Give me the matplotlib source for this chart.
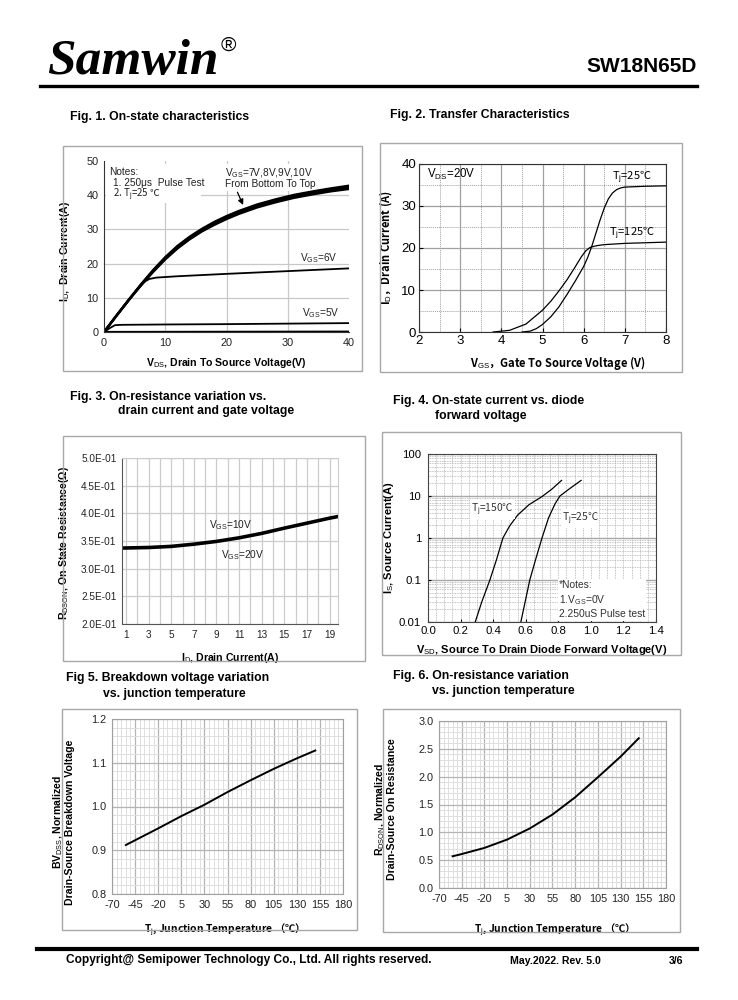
import matplotlib
matplotlib.use("Agg")
import matplotlib.pyplot as plt
from matplotlib.patches import Rectangle
from matplotlib.lines import Line2D
from matplotlib.ticker import MultipleLocator, FixedLocator, LogLocator, NullFormatter, FuncFormatter

plt.rcParams['font.family'] = ['Liberation Sans', 'DejaVu Sans', 'Noto Sans CJK SC']
plt.rcParams['mathtext.fontset'] = 'custom'
plt.rcParams['mathtext.rm'] = 'Liberation Sans'
plt.rcParams['mathtext.it'] = 'Liberation Sans:italic'
plt.rcParams['mathtext.bf'] = 'Liberation Sans:bold'
plt.rcParams['axes.unicode_minus'] = False
CJK = 'Noto Sans CJK SC'   # used for texts holding ℃ or full-width signs

# ---- Fig 1 data: on-state characteristics
vds_hi = [0, 2, 4, 6, 8, 10, 12, 14, 16, 18, 20, 22, 25, 28, 31, 34, 37, 40]
id_7v = [0, 4.6, 9.2, 13.5, 17.5, 21.2, 24.4, 27.1, 29.4, 31.3, 33.0, 34.5, 36.4, 37.9, 39.2, 40.2, 41.1, 41.8]
id_8v = [0, 4.7, 9.3, 13.6, 17.7, 21.5, 24.7, 27.4, 29.7, 31.7, 33.4, 34.9, 36.8, 38.3, 39.6, 40.6, 41.5, 42.2]
id_9v = [0, 4.7, 9.3, 13.7, 17.9, 21.7, 25.0, 27.7, 30.0, 32.0, 33.7, 35.2, 37.1, 38.6, 39.9, 40.9, 41.8, 42.5]
id_10v = [0, 4.8, 9.4, 13.9, 18.1, 21.9, 25.2, 27.9, 30.2, 32.2, 33.9, 35.4, 37.3, 38.8, 40.1, 41.1, 42.0, 42.8]
vds_6v = [0, 2, 4, 5.8, 6.6, 7.4, 8.5, 12, 20, 30, 40]
id_6v = [0, 4.6, 9.1, 13.3, 14.7, 15.5, 15.9, 16.3, 17.0, 17.8, 18.6]
vds_5v = [0, 1, 1.8, 3, 10, 20, 30, 40]
id_5v = [0, 1.2, 2.0, 2.1, 2.2, 2.3, 2.45, 2.6]
vds_4v = [0, 40]
id_4v = [0.05, 0.15]

# ---- Fig 2 data: transfer characteristics
vgs_25 = [4.5, 4.7, 4.85, 5.0, 5.2, 5.4, 5.6, 5.8, 6.0, 6.1, 6.2, 6.3, 6.4, 6.5, 6.6, 6.7, 6.8, 6.9, 7.0, 7.5, 8.0]
id_25 = [0, 0.2, 0.8, 1.8, 3.6, 6.0, 9.0, 12.2, 15.6, 17.8, 20.5, 23.6, 26.7, 29.5, 31.7, 33.1, 33.9, 34.3, 34.5, 34.7, 34.8]
vgs_125 = [3.8, 4.2, 4.6, 5.0, 5.2, 5.4, 5.6, 5.8, 5.95, 6.05, 6.15, 6.25, 6.35, 6.5, 7.0, 8.0]
id_125 = [0, 0.4, 1.9, 5.2, 7.3, 9.8, 12.5, 15.6, 18.0, 19.3, 20.1, 20.4, 20.6, 20.8, 21.1, 21.4]

# ---- Fig 3 data: on-resistance vs drain current
id_r = [0.65, 3, 5, 7, 9, 11, 13, 15, 17, 19, 19.75]
rds_10v = [0.3385, 0.3395, 0.3415, 0.3455, 0.3505, 0.3570, 0.3650, 0.3745, 0.3835, 0.3925, 0.3955]
rds_20v = [0.3360, 0.3370, 0.3390, 0.3430, 0.3480, 0.3545, 0.3625, 0.3720, 0.3810, 0.3900, 0.3930]

# ---- Fig 4 data: body diode
vsd_150 = [0.29, 0.33, 0.38, 0.42, 0.46, 0.50, 0.55, 0.62, 0.70, 0.76, 0.82]
is_150 = [0.01, 0.03, 0.1, 0.3, 1.0, 1.9, 3.5, 6.2, 9.7, 14.5, 23.5]
vsd_25 = [0.57, 0.60, 0.625, 0.66, 0.70, 0.74, 0.78, 0.81, 0.87, 0.94]
is_25 = [0.01, 0.035, 0.1, 0.3, 1.0, 3.0, 6.5, 10, 15, 23.5]

# ---- Fig 5 / Fig 6 data: vs junction temperature
tj_bv = [-55, -20, 5, 30, 55, 80, 105, 130, 150]
bv_norm = [0.912, 0.950, 0.978, 1.004, 1.033, 1.060, 1.086, 1.110, 1.128]
tj_rds = [-55, -45, -20, 5, 30, 55, 80, 105, 130, 150]
rds_norm = [0.57, 0.61, 0.72, 0.87, 1.07, 1.32, 1.63, 1.99, 2.36, 2.69]
temp_ticks = [-70, -45, -20, 5, 30, 55, 80, 105, 130, 155, 180]

W, H = 738, 1000
fig = plt.figure(figsize=(7.38, 10), dpi=100)


def fx(x):
    return x / W


def fy(y):
    return 1 - y / H


def panel_box(l, t, r, b):
    fig.add_artist(Rectangle((fx(l), fy(b)), fx(r - l), (b - t) / H, transform=fig.transFigure,
                             fill=False, edgecolor='#a8a8a8', linewidth=1.0))


def axes_px(l, t, r, b):
    return fig.add_axes([fx(l), fy(b), fx(r - l), (b - t) / H])


def ftext(x, y, s, **kw):
    fig.text(fx(x), fy(y), s, **kw)


# header / footer
ftext(47, 62, 'Samwin', family='Liberation Serif', fontsize=37, fontweight='bold',
      fontstyle='italic', va='center', ha='left')
ftext(221, 45, '®', family='Liberation Sans', fontsize=15, va='center', ha='left')
ftext(697, 66, 'SW18N65D', fontsize=15, fontweight='bold', ha='right', va='center')
fig.add_artist(Line2D([fx(40), fx(697)], [fy(86), fy(86)], color='black', linewidth=2.4))
fig.add_artist(Line2D([fx(37), fx(697)], [fy(949), fy(949)], color='black', linewidth=3.0))
ftext(66, 960, 'Copyright@ Semipower Technology Co., Ltd. All rights reserved.',
      fontsize=8.6, fontweight='bold', va='center')
ftext(510, 961, 'May.2022. Rev. 5.0', fontsize=7.6, fontweight='bold', va='center')
ftext(683, 961, '3/6', fontsize=7.6, fontweight='bold', va='center', ha='right')

tfs = 8.8
ftext(70, 117, 'Fig. 1. On-state characteristics', fontsize=tfs, fontweight='bold', va='center')
ftext(390, 115, 'Fig. 2. Transfer Characteristics', fontsize=tfs, fontweight='bold', va='center')
ftext(70, 397, 'Fig. 3. On-resistance variation vs.', fontsize=tfs, fontweight='bold', va='center')
ftext(118, 411, 'drain current and gate voltage', fontsize=tfs, fontweight='bold', va='center')
ftext(393, 401, 'Fig. 4. On-state current vs. diode', fontsize=tfs, fontweight='bold', va='center')
ftext(435, 416, 'forward voltage', fontsize=tfs, fontweight='bold', va='center')
ftext(66, 678, 'Fig 5. Breakdown voltage variation', fontsize=tfs, fontweight='bold', va='center')
ftext(103, 694, 'vs. junction temperature', fontsize=tfs, fontweight='bold', va='center')
ftext(393, 676, 'Fig. 6. On-resistance variation', fontsize=tfs, fontweight='bold', va='center')
ftext(432, 691, 'vs. junction temperature', fontsize=tfs, fontweight='bold', va='center')

for bx in [(63, 146, 362, 371), (380, 143, 682, 372), (63, 436, 365, 661),
           (382, 432, 681, 655), (62, 709, 357, 930), (383, 709, 680, 932)]:
    panel_box(*bx)

lab = dict(fontsize=7.6, fontweight='bold')

# ---------------- Fig 1
ax1 = axes_px(104, 161, 349, 332)
for yv in [10, 20, 30, 40]:
    ax1.axhline(yv, color='#c8c8c8', linewidth=0.9, zorder=0)
for xv in [10, 20, 30]:
    ax1.axvline(xv, color='#c8c8c8', linewidth=0.9, zorder=0)
# white patch behind the notes, hiding the grid like the original
ax1.add_patch(Rectangle((0.4, 37.6), 15.4, 11.4, facecolor='white', edgecolor='none', zorder=0.5))
ax1.add_patch(Rectangle((19.4, 41.2), 14.2, 7.8, facecolor='white', edgecolor='none', zorder=0.5))
ax1.plot(vds_4v, id_4v, color='black', linewidth=1.3)
ax1.plot(vds_5v, id_5v, color='black', linewidth=1.3)
ax1.plot(vds_6v, id_6v, color='black', linewidth=1.3)
for ys in [id_7v, id_8v, id_9v, id_10v]:
    ax1.plot(vds_hi, ys, color='black', linewidth=1.6)
ax1.set_xlim(0, 40)
ax1.set_ylim(0, 50)
ax1.xaxis.set_major_locator(MultipleLocator(10))
ax1.yaxis.set_major_locator(MultipleLocator(10))
ax1.tick_params(length=0, labelsize=7.8, labelcolor='#222222', pad=4)
for s in ['top', 'right']:
    ax1.spines[s].set_visible(False)
for s in ['left', 'bottom']:
    ax1.spines[s].set_color('#333333')
ax1.text(0.9, 46.8, 'Notes:', fontsize=7.3, va='center', color='#222222')
ax1.text(1.4, 43.5, '1. 250μs  Pulse Test', fontsize=7.3, va='center', color='#222222')
ax1.text(1.4, 40.2, '2. T$_{\\rm j}$=25 ℃', family=CJK, fontsize=7.0, va='center', color='#222222')
ax1.text(19.8, 46.4, 'V$_{\\rm GS}$=7V,8V,9V,10V', fontsize=7.3, va='center', color='#222222')
ax1.text(19.8, 43.3, 'From Bottom To Top', fontsize=7.3, va='center', color='#222222')
ax1.annotate('', xy=(22.9, 36.4), xytext=(21.6, 41.6),
             arrowprops=dict(arrowstyle='-|>', color='black', linewidth=0.9, mutation_scale=8))
ax1.text(32, 21.6, 'V$_{\\rm GS}$=6V', fontsize=7.3, color='#222222', va='center')
ax1.text(32.3, 5.6, 'V$_{\\rm GS}$=5V', fontsize=7.3, color='#222222', va='center')
ax1.set_xlabel('V$_{\\rm DS}$, Drain To Source Voltage(V)', **lab)
ax1.set_ylabel('I$_{\\rm D}$,  Drain Current(A)', **lab)
ax1.xaxis.set_label_coords(0.5, -0.14)
ax1.yaxis.set_label_coords(-0.13, 0.47)

# ---------------- Fig 2
ax2 = axes_px(419, 164, 666, 332)
ax2.plot(vgs_25, id_25, color='black', linewidth=0.9)
ax2.plot(vgs_125, id_125, color='black', linewidth=0.9)
ax2.set_xlim(2, 8)
ax2.set_ylim(0, 40)
ax2.xaxis.set_major_locator(MultipleLocator(1))
ax2.yaxis.set_major_locator(MultipleLocator(10))
ax2.xaxis.set_minor_locator(MultipleLocator(0.5))
ax2.yaxis.set_minor_locator(MultipleLocator(5))
ax2.grid(which='major', color='#a0a0a0', linewidth=0.9)
ax2.grid(which='minor', color='#a0a0a0', linewidth=0.7, linestyle=(0, (1, 1)))
ax2.set_axisbelow(True)
ax2.tick_params(which='major', direction='in', length=3, labelsize=9.5, pad=2)
ax2.tick_params(which='minor', length=0)
for s in ax2.spines.values():
    s.set_color('#333333')
ax2.text(2.2, 37.5, 'V$_{\\rm DS}$=20V', fontsize=8.3, va='center')
ax2.text(6.68, 36.9, 'T$_{\\rm j}$=25℃', family=CJK, fontsize=8.0, va='center')
ax2.text(6.62, 23.5, 'T$_{\\rm j}$=125℃', family=CJK, fontsize=8.0, va='center')
ax2.set_xlabel('V$_{\\rm GS}$，Gate To Source Voltage (V)', family=CJK, fontsize=8.0, fontweight='bold')
ax2.set_ylabel('I$_{\\rm D}$，Drain Current (A)', family=CJK, fontsize=8.0, fontweight='bold')
ax2.xaxis.set_label_coords(0.56, -0.13)
ax2.yaxis.set_label_coords(-0.1, 0.5)

# ---------------- Fig 3
ax3 = axes_px(122, 458, 338, 624)
ax3.plot(id_r, rds_10v, color='black', linewidth=1.6)
ax3.plot(id_r, rds_20v, color='black', linewidth=1.6)
ax3.set_xlim(0.65, 19.75)
ax3.set_ylim(0.2, 0.5)
ax3.xaxis.set_major_locator(FixedLocator(list(range(1, 20, 2))))
ax3.xaxis.set_minor_locator(FixedLocator(list(range(2, 20, 2))))
ax3.yaxis.set_major_locator(MultipleLocator(0.05))
ax3.yaxis.set_major_formatter(FuncFormatter(lambda v, p: '%.1E' % v))
ax3.grid(which='both', color='#cccccc', linewidth=0.9)
ax3.set_axisbelow(True)
ax3.tick_params(which='both', length=0, labelsize=7.2, labelcolor='#222222', pad=4)
for s in ['top', 'right']:
    ax3.spines[s].set_color('#cccccc')
for s in ['left', 'bottom']:
    ax3.spines[s].set_color('#555555')
ax3.text(8.3, 0.378, 'V$_{\\rm GS}$=10V', fontsize=7.3, color='#222222', va='center')
ax3.text(9.4, 0.325, 'V$_{\\rm GS}$=20V', fontsize=7.3, color='#222222', va='center')
ax3.set_xlabel('I$_{\\rm D}$, Drain Current(A)', **lab)
ax3.set_ylabel('R$_{\\rm DSON}$, On-State Resistance(Ω)', **lab)
ax3.xaxis.set_label_coords(0.5, -0.16)
ax3.yaxis.set_label_coords(-0.235, 0.49)

# ---------------- Fig 4
ax4 = axes_px(428, 454, 656, 622)
ax4.semilogy(vsd_150, is_150, color='black', linewidth=0.9)
ax4.semilogy(vsd_25, is_25, color='black', linewidth=0.9)
ax4.set_xlim(0, 1.4)
ax4.set_ylim(0.01, 100)
ax4.xaxis.set_major_locator(MultipleLocator(0.2))
ax4.xaxis.set_minor_locator(MultipleLocator(0.05))
ax4.yaxis.set_major_locator(LogLocator(base=10, numticks=10))
ax4.yaxis.set_minor_locator(LogLocator(base=10, subs=range(2, 10), numticks=10))
ax4.yaxis.set_minor_formatter(NullFormatter())
ax4.yaxis.set_major_formatter(FuncFormatter(lambda v, p: '%g' % v))
ax4.xaxis.set_major_formatter(FuncFormatter(lambda v, p: '%.1f' % v))
ax4.grid(which='major', axis='y', color='#a8a8a8', linewidth=1.0)
ax4.grid(which='minor', axis='y', color='#b0b0b0', linewidth=0.6, linestyle=(0, (1, 1)))
ax4.grid(which='both', axis='x', color='#b0b0b0', linewidth=0.6, linestyle=(0, (1, 1)))
ax4.set_axisbelow(True)
ax4.tick_params(which='major', direction='in', length=2.5, labelsize=8.2)
ax4.tick_params(axis='y', pad=5)
ax4.tick_params(axis='x', pad=3)
ax4.tick_params(which='minor', length=0)
for s in ax4.spines.values():
    s.set_color('#444444')
ax4.text(0.265, 4.7, 'T$_{\\rm j}$=150℃', family=CJK, fontsize=7.4, color='#333333', va='center',
         bbox=dict(facecolor='white', edgecolor='none', pad=0.5))
ax4.text(0.82, 2.95, 'T$_{\\rm j}$=25℃', family=CJK, fontsize=7.4, color='#333333', va='center',
         bbox=dict(facecolor='white', edgecolor='none', pad=0.5))
ax4.text(0.805, 0.0115, '*Notes:\n1.V$_{\\rm GS}$=0V\n2.250uS Pulse test', fontsize=7.4,
         color='#333333', va='bottom', ha='left', linespacing=1.3,
         bbox=dict(facecolor='white', edgecolor='none', pad=0.8))
ax4.set_xlabel('V$_{\\rm SD}$, Source To Drain Diode Forward Voltage(V)', fontsize=8.0, fontweight='bold')
ax4.set_ylabel('I$_{\\rm S}$, Source Current(A)', fontsize=8.0, fontweight='bold')
ax4.xaxis.set_label_coords(0.5, -0.125)
ax4.yaxis.set_label_coords(-0.14, 0.5)


def temp_axes(ax, ylim, ymaj, ymin):
    ax.set_xlim(-70, 180)
    ax.set_ylim(*ylim)
    ax.xaxis.set_major_locator(FixedLocator(temp_ticks))
    ax.xaxis.set_minor_locator(MultipleLocator(5))
    ax.yaxis.set_major_locator(MultipleLocator(ymaj))
    ax.yaxis.set_minor_locator(MultipleLocator(ymin))
    ax.yaxis.set_major_formatter(FuncFormatter(lambda v, p: '%.1f' % v))
    ax.grid(which='major', color='#b4b4b4', linewidth=0.9)
    ax.grid(which='minor', color='#dedede', linewidth=0.7)
    ax.set_axisbelow(True)
    ax.tick_params(which='both', length=0, labelsize=7.8, labelcolor='#222222', pad=4)
    for s in ax.spines.values():
        s.set_color('#a0a0a0')


# ---------------- Fig 5
ax5 = axes_px(112, 719, 343, 894)
ax5.plot(tj_bv, bv_norm, color='black', linewidth=1.4)
temp_axes(ax5, (0.8, 1.2), 0.1, 0.02)
ax5.set_xlabel('T$_{\\rm j}$, Junction Temperature （℃）', family=CJK, fontsize=7.4, fontweight='bold')
ax5.set_ylabel('BV$_{\\rm DSS}$, Normalized\nDrain-Source Breakdown Voltage', linespacing=0.95, **lab)
ax5.xaxis.set_label_coords(0.476, -0.16)
ax5.yaxis.set_label_coords(-0.16, 0.41)

# ---------------- Fig 6
ax6 = axes_px(439, 721, 666, 888)
ax6.plot(tj_rds, rds_norm, color='black', linewidth=1.4)
temp_axes(ax6, (0.0, 3.0), 0.5, 0.1)
ax6.set_xlabel('T$_{\\rm j}$, Junction Temperature （℃）', family=CJK, fontsize=7.4, fontweight='bold')
ax6.set_ylabel('R$_{\\rm DSON}$, Normalized\nDrain-Source On Resistance', linespacing=0.95, **lab)
ax6.xaxis.set_label_coords(0.5, -0.2)
ax6.yaxis.set_label_coords(-0.185, 0.47)

fig.savefig('out.png', dpi=100)
